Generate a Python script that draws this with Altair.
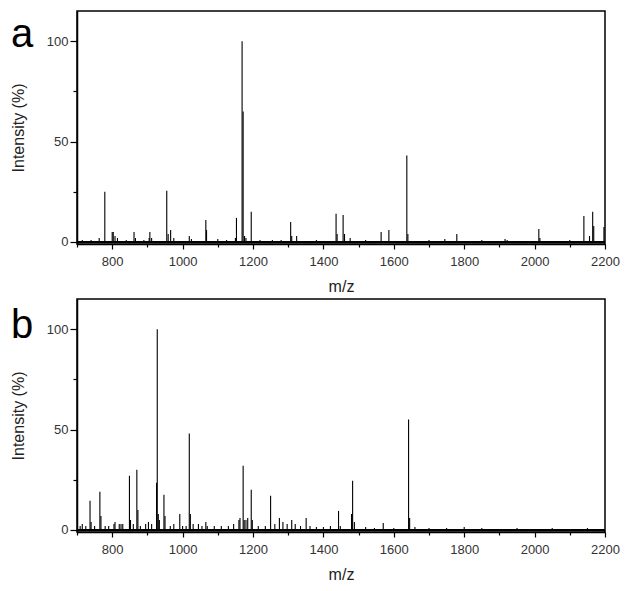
import altair as alt
import pandas as pd

# Panel a peaks (m/z, relative intensity %)
a_mz = [715, 740, 763, 779, 800, 803, 808, 815, 840, 862, 866, 890, 905, 907, 912,
        955, 959, 966, 975, 1019, 1025, 1066, 1068, 1100, 1125, 1150, 1153, 1169,
        1172, 1176, 1180, 1195, 1220, 1255, 1280, 1307, 1310, 1324, 1380, 1436,
        1439, 1456, 1460, 1476, 1520, 1564, 1586, 1637, 1640, 1700, 1745, 1779,
        1850, 1916, 1922, 2012, 2015, 2100, 2140, 2156, 2165, 2168, 2197]
a_int = [1, 1, 2, 25, 5, 5, 3, 2, 1, 5, 2, 1, 2, 5, 2,
         25.5, 4, 6, 2, 3, 1.5, 11, 6, 1.5, 1, 2, 12, 100,
         65, 3, 2, 15, 1, 1, 1, 10, 3, 3, 1, 14,
         4, 13.5, 4, 2, 1, 5, 6, 43, 4, 1, 1.5, 4,
         1, 1.5, 1, 6.5, 2, 1, 13, 3, 15, 8, 7.5]

# Panel b peaks
b_mz = [709, 715, 725, 737, 740, 750, 765, 768, 780, 790, 805, 808, 820, 825, 830,
        849, 852, 860, 870, 873, 880, 895, 903, 912, 926, 928, 931, 934, 947, 950,
        965, 975, 992, 1000, 1010, 1019, 1022, 1030, 1045, 1055, 1066, 1070, 1090,
        1110, 1130, 1145, 1160, 1163, 1172, 1175, 1180, 1185, 1195, 1198, 1215,
        1235, 1250, 1262, 1275, 1285, 1297, 1310, 1320, 1335, 1351, 1362, 1380,
        1400, 1420, 1443, 1448, 1480, 1483, 1488, 1520, 1545, 1570, 1600, 1642,
        1645, 1660, 1700, 1750, 1800, 1850, 1950, 2050, 2150]
b_int = [2, 3, 2, 14.5, 4, 2, 19, 7, 2, 2, 3, 4, 3, 3, 3,
         27, 5, 3, 30, 10, 2, 3, 4, 3, 23.5, 100, 8, 5, 17.5, 7,
         2, 3, 8, 2, 2, 48, 8, 3, 3, 2, 4, 2, 2,
         2, 2, 3, 5, 6, 32, 5, 5, 6, 20, 5, 2,
         2, 17, 3, 6, 4, 3, 5, 3, 2, 6, 2, 1.5,
         1.5, 2, 9.5, 2, 8, 24.5, 4, 1.5, 1, 3.5, 1, 55,
         6, 1.5, 1, 1, 1.5, 1, 1, 1, 1]

panel_labels = ["a", "b"]
x_ticks = list(range(700, 2201, 100))
y_ticks = [0, 25, 50, 75, 100]

FONT = "Liberation Sans"
W, H = 528, 233
YDOM = [-1, 115]

def panel(mz, inten, label, label_y):
    df = pd.DataFrame({"mz": mz, "intensity": inten})
    x = alt.X("mz:Q", scale=alt.Scale(domain=[700, 2200], nice=False),
              axis=alt.Axis(title="m/z", values=x_ticks, tickCount=40,
                            labelOverlap=False, labelFlush=False, format="d",
                            labelExpr="datum.value % 200 == 0 ? datum.label : ''",
                            tickSize={"condition": {"test": "datum.value % 200 == 0", "value": 5}, "value": 3},
                            labelPadding=6, grid=False, titlePadding=10))
    y = alt.Y("intensity:Q", scale=alt.Scale(domain=YDOM, nice=False),
              axis=alt.Axis(title="Intensity (%)", values=y_ticks, tickCount=20,
                            labelOverlap=False, labelPadding=2,
                            labelExpr="datum.value % 50 == 0 ? datum.label : ''",
                            tickSize={"condition": {"test": "datum.value % 50 == 0", "value": 7}, "value": 4},
                            grid=False, titlePadding=20))
    sticks = alt.Chart(df).mark_rule(color="black", strokeWidth=1.1).encode(
        x=x, y=y, y2=alt.datum(0))
    base = alt.Chart(pd.DataFrame({"x0": [700], "x1": [2200], "y0": [0]})).mark_rule(
        color="black", strokeWidth=2.2).encode(x="x0:Q", x2="x1:Q", y="y0:Q")
    lab = alt.Chart(pd.DataFrame({"t": [label]})).mark_text(
        font=FONT, fontSize=40, align="center", baseline="top", color="black"
    ).encode(text="t:N", x=alt.value(-55), y=alt.value(label_y))
    return alt.layer(sticks, base, lab).properties(width=W, height=H)

chart = alt.vconcat(
    panel(a_mz, a_int, panel_labels[0], 4),
    panel(b_mz, b_int, panel_labels[1], 7),
    spacing=3,
).properties(padding={"left": 1, "top": 2, "right": 0, "bottom": 0}).configure_view(
    stroke="black", strokeWidth=1.5
).configure_axis(
    labelFont=FONT, titleFont=FONT, labelFontSize=13, titleFontSize=16,
    titleFontWeight="normal", labelColor="#333", titleColor="#222",
    domainColor="black", domainWidth=1.5, tickColor="black", tickWidth=1.2,
)

chart.save("out.html", embed_options={"renderer": "svg", "actions": False})
